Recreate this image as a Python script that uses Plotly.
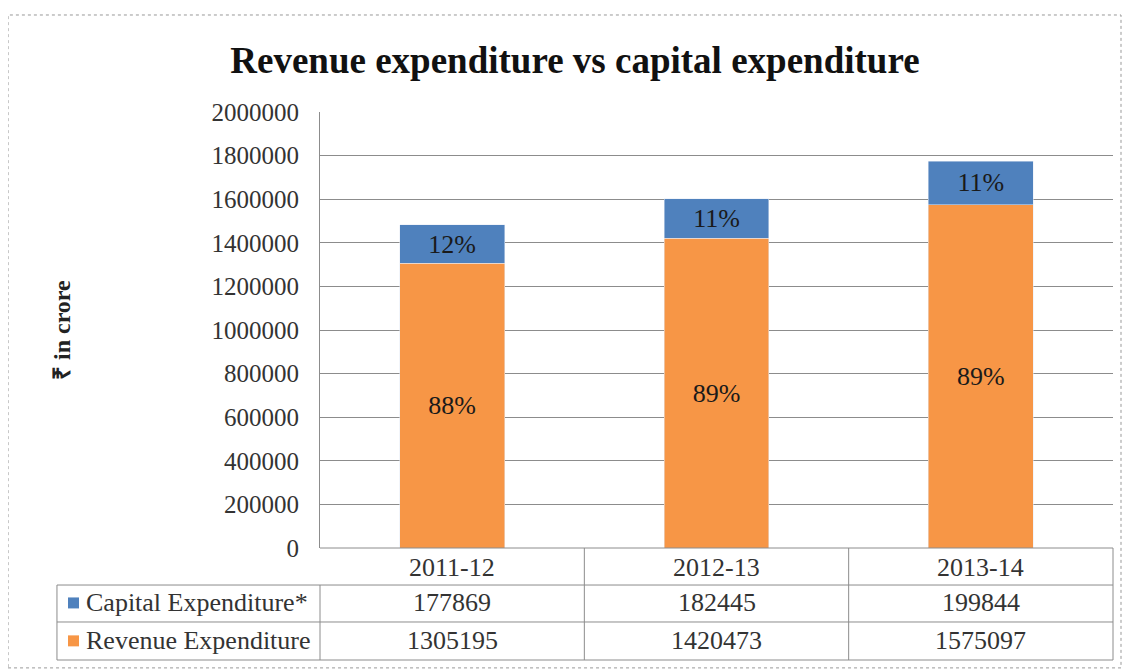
import plotly.graph_objects as go

years = ["2011-12", "2012-13", "2013-14"]
capital = [177869, 182445, 199844]
revenue = [1305195, 1420473, 1575097]
series_names = ["Capital Expenditure*", "Revenue Expenditure"]
y_ticks = [0, 200000, 400000, 600000, 800000, 1000000, 1200000, 1400000, 1600000, 1800000, 2000000]

BLUE = "#4F81BD"
ORANGE = "#F79646"
GRID = "#8c8c8c"
SERIF = "Liberation Serif, Times New Roman, serif"

totals = [c + r for c, r in zip(capital, revenue)]
cap_pct = [f"{round(c / t * 100)}%" for c, t in zip(capital, totals)]
rev_pct = [f"{round(r / t * 100)}%" for r, t in zip(revenue, totals)]

fig = go.Figure()
fig.add_trace(go.Bar(x=years, y=revenue, name=series_names[1], marker_color=ORANGE,
                     text=rev_pct, textposition="inside", insidetextanchor="middle",
                     textfont=dict(family=SERIF, size=26, color="#1a1a1a"), width=0.397))
fig.add_trace(go.Bar(x=years, y=capital, name=series_names[0], marker_color=BLUE,
                     text=cap_pct, textposition="inside", insidetextanchor="middle",
                     textfont=dict(family=SERIF, size=26, color="#1a1a1a"), width=0.397))

# the page has an 8px body margin, so the figure is 8px smaller than the window
fig.update_layout(
    barmode="stack",
    width=1122, height=662,
    margin=dict(l=312, r=17, t=104, b=122),
    paper_bgcolor="white", plot_bgcolor="white",
    showlegend=False,
    uniformtext=dict(mode="show", minsize=10),
    title=dict(text="<b>Revenue expenditure vs capital expenditure</b>",
               x=0.5053, xanchor="center", y=0.9215, yanchor="middle",
               font=dict(family=SERIF, size=37, color="#111")),
    font=dict(family=SERIF, color="#222"),
)
fig.update_yaxes(range=[0, 2000000], tickvals=y_ticks, ticktext=[str(v) for v in y_ticks],
                 showgrid=True, gridcolor=GRID, gridwidth=1,
                 showline=True, linecolor=GRID, zeroline=False,
                 tickfont=dict(family=SERIF, size=25, color="#333"), ticklabelstandoff=15)
fig.update_xaxes(type="category", range=[-0.5, 2.5], showticklabels=False, showline=False, showgrid=False)

# y axis title
fig.add_annotation(text="<b>₹ in crore</b>", xref="paper", yref="paper", x=-0.3253, y=0.5,
                   xanchor="center", yanchor="middle", textangle=-90, showarrow=False,
                   font=dict(family=SERIF, size=24, color="#222"))

# data table under the plot
line = dict(color=GRID, width=1)
tab_left = -0.3317
row_y = [-0.0436, -0.126, -0.213]
row_lines = [0, -0.0849, -0.1697, -0.2569]
for y in row_lines:
    x0 = 0 if y == 0 else tab_left
    fig.add_shape(type="line", xref="paper", yref="paper", x0=x0, x1=1, y0=y, y1=y, line=line)
for x in [1 / 3, 2 / 3, 1.0]:
    fig.add_shape(type="line", xref="paper", yref="paper", x0=x, x1=x, y0=0, y1=row_lines[-1], line=line)
for x in [tab_left, 0]:
    fig.add_shape(type="line", xref="paper", yref="paper", x0=x, x1=x, y0=row_lines[1], y1=row_lines[-1], line=line)

cell_font = dict(family=SERIF, size=26, color="#333")
for i, yr in enumerate(years):
    xc = (2 * i + 1) / 6
    for text, y in [(yr, row_y[0]), (str(capital[i]), row_y[1]), (str(revenue[i]), row_y[2])]:
        fig.add_annotation(text=text, xref="paper", yref="paper", x=xc, y=y, xanchor="center",
                           yanchor="middle", showarrow=False, font=cell_font)

for name, color, y in [(series_names[0], BLUE, row_y[1]), (series_names[1], ORANGE, row_y[2])]:
    fig.add_shape(type="rect", xref="paper", yref="paper", x0=-0.3178, x1=-0.3039,
                  y0=y - 0.0126, y1=y + 0.0126, fillcolor=color, line=dict(width=0))
    fig.add_annotation(text=name, xref="paper", yref="paper", x=-0.2976, y=y, xanchor="left",
                       yanchor="middle", showarrow=False, font=cell_font)

# dotted frame around the whole chart
fig.add_shape(type="rect", xref="paper", yref="paper", x0=-0.3934, x1=1.0101, y0=-0.275, y1=1.2225,
              line=dict(color="#999", width=1, dash="dot"))

fig.write_html("out.html")
